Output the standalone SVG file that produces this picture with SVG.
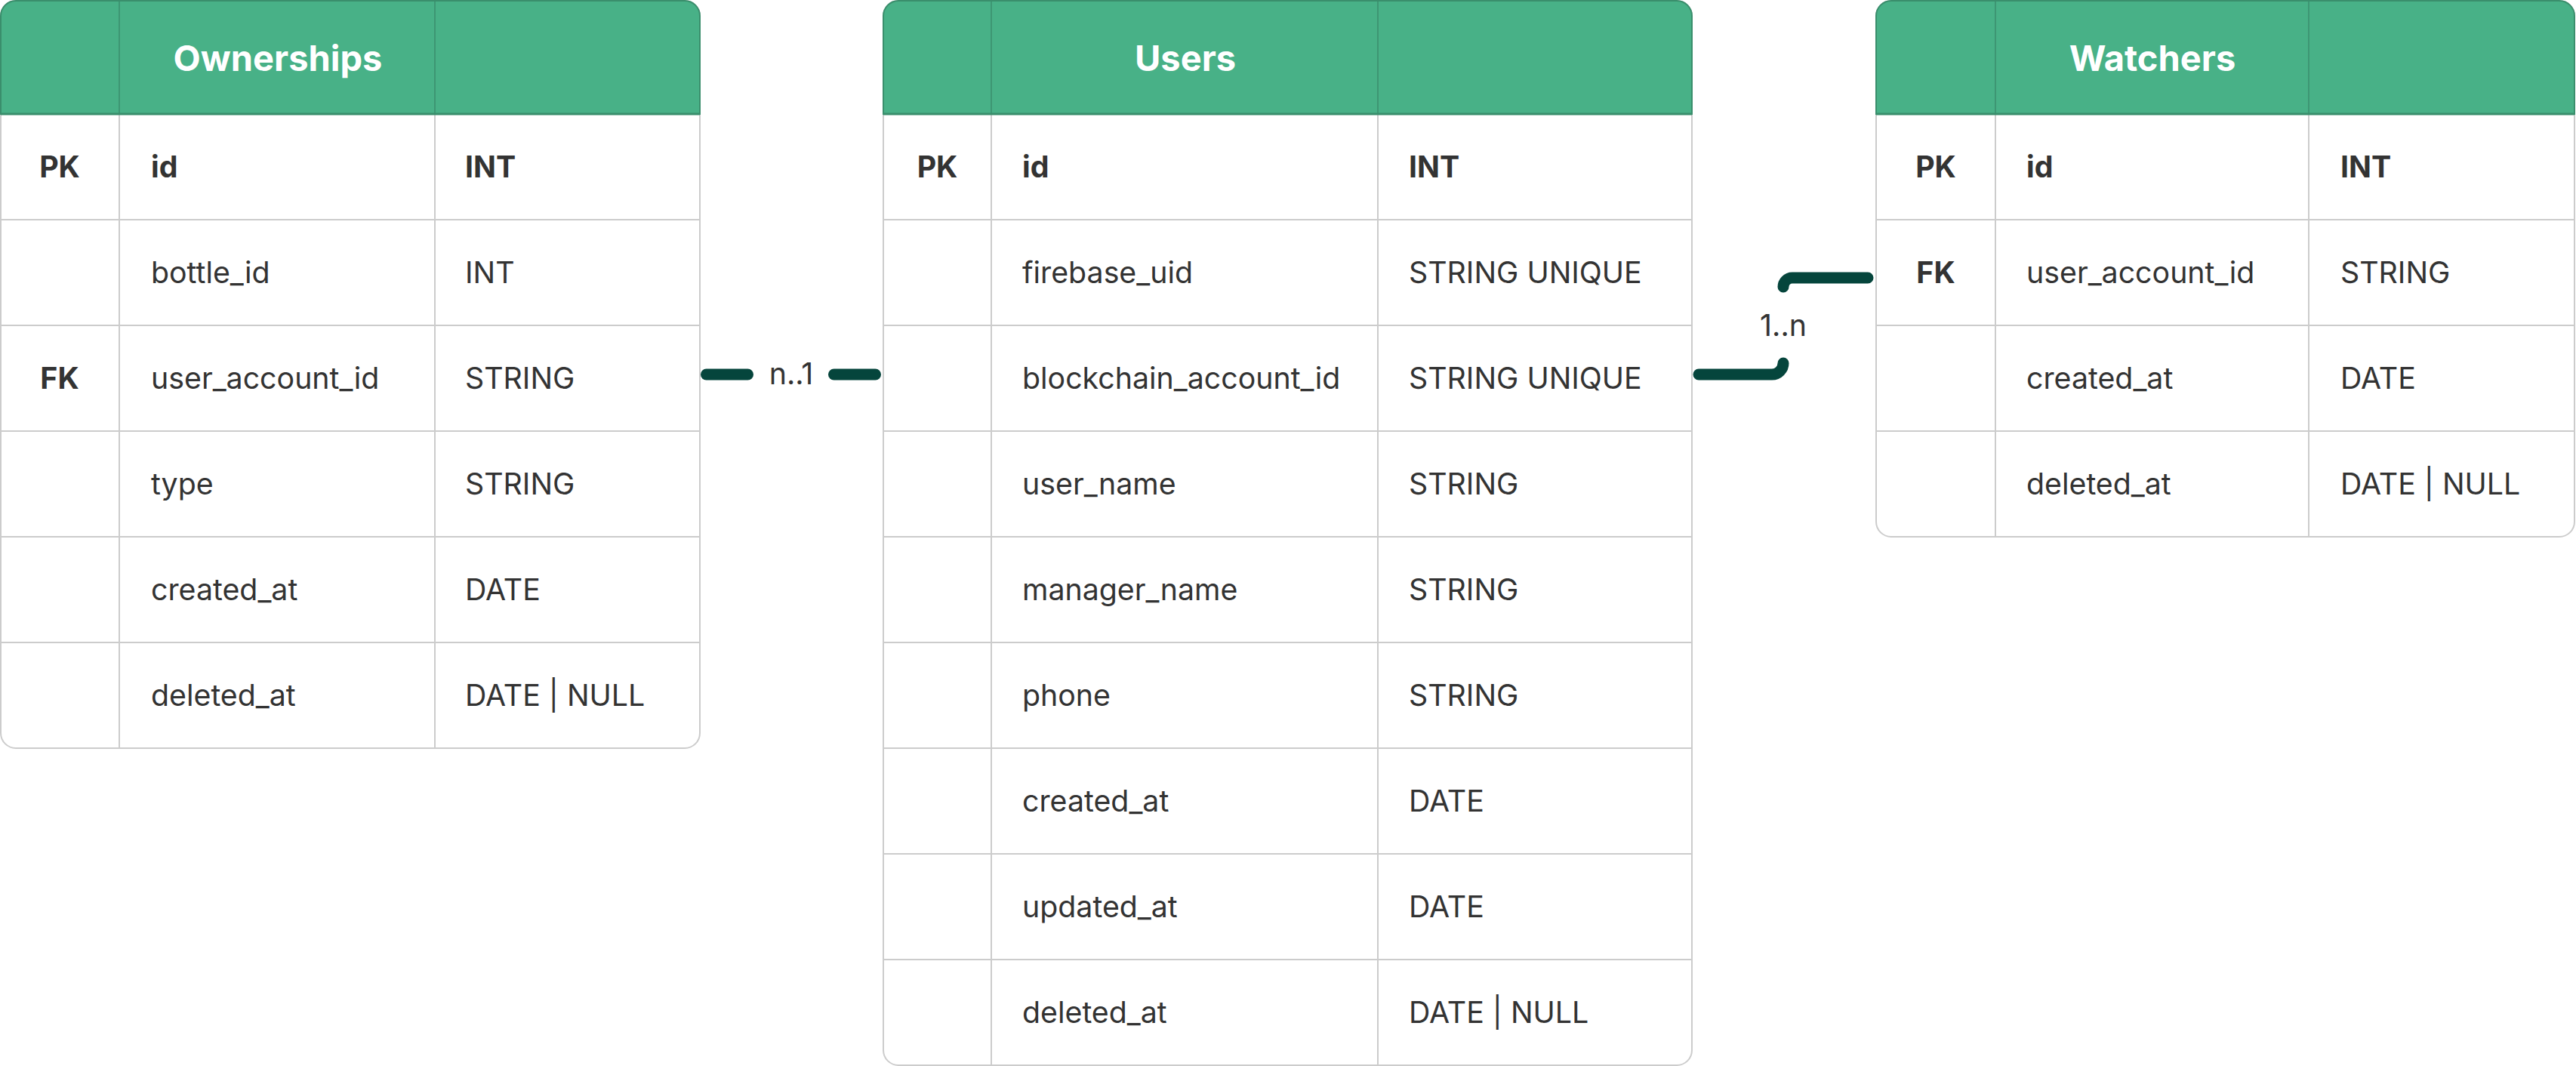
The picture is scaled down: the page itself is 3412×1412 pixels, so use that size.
<svg xmlns="http://www.w3.org/2000/svg" width="3412" height="1412" viewBox="0 0 3412 1412">
<style>
.body{fill:#ffffff;stroke:#cccccc;stroke-width:2}
.head{fill:#48B187;stroke:#3A8E6C;stroke-width:2}
.hline{stroke:#3A8E6C;stroke-width:3}
.hcol{stroke:#3A8E6C;stroke-width:1.5}
.grid{stroke:#cccccc;stroke-width:2}
.title{font-family:Inter,"Liberation Sans",sans-serif;font-size:47px;font-weight:700;fill:#ffffff;text-anchor:middle}
.t{font-family:Inter,"Liberation Sans",sans-serif;font-size:39.3px;fill:#333333}
.b{font-weight:700}
.k{text-anchor:middle}
.conn{fill:none;stroke:#05453C;stroke-width:15;stroke-linecap:round;stroke-linejoin:round}
.lbl{font-family:Inter,"Liberation Sans",sans-serif;font-size:39.3px;fill:#333333;text-anchor:middle}
</style>
<rect width="3412" height="1412" fill="#ffffff"/>

<g id="ownerships">
<rect class="body" x="1" y="1" width="926" height="990" rx="20"/>
<path class="head" d="M1,151 V21 A20,20 0 0 1 21,1 H907 A20,20 0 0 1 927,21 V151 Z"/>
<line class="hcol" x1="158" y1="1" x2="158" y2="151"/>
<line class="hcol" x1="576" y1="1" x2="576" y2="151"/>
<line class="grid" x1="158" y1="151" x2="158" y2="991"/>
<line class="grid" x1="576" y1="151" x2="576" y2="991"/>
<line class="grid" x1="1" y1="291" x2="927" y2="291"/>
<line class="grid" x1="1" y1="431" x2="927" y2="431"/>
<line class="grid" x1="1" y1="571" x2="927" y2="571"/>
<line class="grid" x1="1" y1="711" x2="927" y2="711"/>
<line class="grid" x1="1" y1="851" x2="927" y2="851"/>
<line class="hline" x1="1" y1="151" x2="927" y2="151"/>
<text class="title" x="368" y="94">Ownerships</text>
<text class="t b k" x="79" y="235">PK</text><text class="t b" x="200" y="235">id</text><text class="t b" x="616" y="235">INT</text>
<text class="t" x="200" y="375">bottle_id</text><text class="t" x="616" y="375">INT</text>
<text class="t b k" x="79" y="515">FK</text><text class="t" x="200" y="515">user_account_id</text><text class="t" x="616" y="515">STRING</text>
<text class="t" x="200" y="655">type</text><text class="t" x="616" y="655">STRING</text>
<text class="t" x="200" y="795">created_at</text><text class="t" x="616" y="795">DATE</text>
<text class="t" x="200" y="935">deleted_at</text><text class="t" x="616" y="935">DATE | NULL</text>
</g>

<g id="users">
<rect class="body" x="1170" y="1" width="1071" height="1410" rx="20"/>
<path class="head" d="M1170,151 V21 A20,20 0 0 1 1190,1 H2221 A20,20 0 0 1 2241,21 V151 Z"/>
<line class="hcol" x1="1313" y1="1" x2="1313" y2="151"/>
<line class="hcol" x1="1825" y1="1" x2="1825" y2="151"/>
<line class="grid" x1="1313" y1="151" x2="1313" y2="1411"/>
<line class="grid" x1="1825" y1="151" x2="1825" y2="1411"/>
<line class="grid" x1="1170" y1="291" x2="2241" y2="291"/>
<line class="grid" x1="1170" y1="431" x2="2241" y2="431"/>
<line class="grid" x1="1170" y1="571" x2="2241" y2="571"/>
<line class="grid" x1="1170" y1="711" x2="2241" y2="711"/>
<line class="grid" x1="1170" y1="851" x2="2241" y2="851"/>
<line class="grid" x1="1170" y1="991" x2="2241" y2="991"/>
<line class="grid" x1="1170" y1="1131" x2="2241" y2="1131"/>
<line class="grid" x1="1170" y1="1271" x2="2241" y2="1271"/>
<line class="hline" x1="1170" y1="151" x2="2241" y2="151"/>
<text class="title" x="1570" y="94">Users</text>
<text class="t b k" x="1241.5" y="235">PK</text><text class="t b" x="1354" y="235">id</text><text class="t b" x="1866" y="235">INT</text>
<text class="t" x="1354" y="375">firebase_uid</text><text class="t" x="1866" y="375">STRING UNIQUE</text>
<text class="t" x="1354" y="515">blockchain_account_id</text><text class="t" x="1866" y="515">STRING UNIQUE</text>
<text class="t" x="1354" y="655">user_name</text><text class="t" x="1866" y="655">STRING</text>
<text class="t" x="1354" y="795">manager_name</text><text class="t" x="1866" y="795">STRING</text>
<text class="t" x="1354" y="935">phone</text><text class="t" x="1866" y="935">STRING</text>
<text class="t" x="1354" y="1075">created_at</text><text class="t" x="1866" y="1075">DATE</text>
<text class="t" x="1354" y="1215">updated_at</text><text class="t" x="1866" y="1215">DATE</text>
<text class="t" x="1354" y="1355">deleted_at</text><text class="t" x="1866" y="1355">DATE | NULL</text>
</g>

<g id="watchers">
<rect class="body" x="2485" y="1" width="925" height="710" rx="20"/>
<path class="head" d="M2485,151 V21 A20,20 0 0 1 2505,1 H3390 A20,20 0 0 1 3410,21 V151 Z"/>
<line class="hcol" x1="2643" y1="1" x2="2643" y2="151"/>
<line class="hcol" x1="3058" y1="1" x2="3058" y2="151"/>
<line class="grid" x1="2643" y1="151" x2="2643" y2="711"/>
<line class="grid" x1="3058" y1="151" x2="3058" y2="711"/>
<line class="grid" x1="2485" y1="291" x2="3410" y2="291"/>
<line class="grid" x1="2485" y1="431" x2="3410" y2="431"/>
<line class="grid" x1="2485" y1="571" x2="3410" y2="571"/>
<line class="hline" x1="2485" y1="151" x2="3410" y2="151"/>
<text class="title" x="2851" y="94">Watchers</text>
<text class="t b k" x="2564" y="235">PK</text><text class="t b" x="2684" y="235">id</text><text class="t b" x="3100" y="235">INT</text>
<text class="t b k" x="2564" y="375">FK</text><text class="t" x="2684" y="375">user_account_id</text><text class="t" x="3100" y="375">STRING</text>
<text class="t" x="2684" y="515">created_at</text><text class="t" x="3100" y="515">DATE</text>
<text class="t" x="2684" y="655">deleted_at</text><text class="t" x="3100" y="655">DATE | NULL</text>
</g>

<g id="connectors">
<path class="conn" d="M935.5,496 H990.5"/>
<path class="conn" d="M1104.5,496 H1159.5"/>
<text class="lbl" x="1048" y="509">n..1</text>
<path class="conn" d="M2250,496 H2347 A15,15 0 0 0 2362,481"/>
<path class="conn" d="M2362,380 A12,12 0 0 1 2374,368 H2474"/>
<text class="lbl" x="2362" y="445">1..n</text>
</g>
</svg>
